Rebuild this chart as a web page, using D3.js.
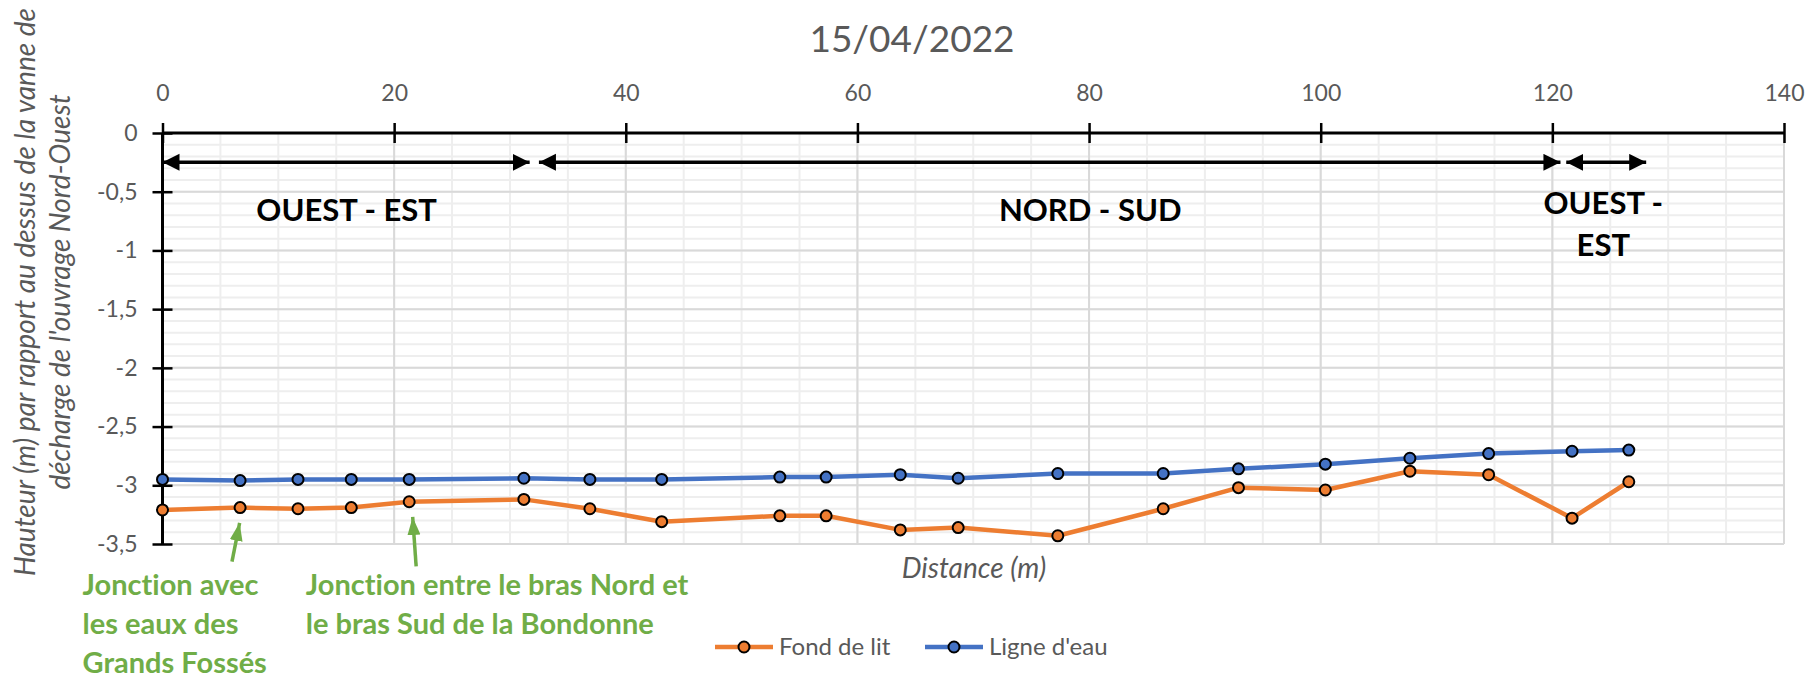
<!DOCTYPE html>
<html>
<head>
<meta charset="utf-8">
<script src="https://cdn.jsdelivr.net/npm/d3@7"></script>
<style>
  body { margin: 0; background: #fff; }
  svg { display: block; font-family: Lato, "Open Sans", sans-serif; font-variant-ligatures: none; }
</style>
</head>
<body>
<svg id="chart"></svg>
<script>
const W = 1807, H = 678

// distances (m) along the river
const distance = [0, 6.7, 11.7, 16.3, 21.3, 31.2, 36.9, 43.1, 53.3, 57.3, 63.7, 68.7, 77.3, 86.4, 92.9, 100.4, 107.7, 114.5, 121.7, 126.6]
// bed level
const fondDeLit = [-3.21, -3.19, -3.2, -3.19, -3.14, -3.12, -3.2, -3.31, -3.26, -3.26, -3.38, -3.36, -3.43, -3.2, -3.02, -3.04, -2.88, -2.91, -3.28, -2.97]
// water line
const ligneEau = [-2.95, -2.96, -2.95, -2.95, -2.95, -2.94, -2.95, -2.95, -2.93, -2.93, -2.91, -2.94, -2.9, -2.9, -2.86, -2.82, -2.77, -2.73, -2.71, -2.7]

const seriesNames = ['Fond de lit', "Ligne d'eau"]
const seriesColors = ['#ED7D31', '#4472C4']

const xTicks = [0, 20, 40, 60, 80, 100, 120, 140]
const yTicks = [0, -0.5, -1, -1.5, -2, -2.5, -3, -3.5]

// double arrows (from, to) in metres, drawn at -0.25
const sections = [[0, 31.7], [32.5, 120.7], [121.2, 128.1]]
const sectionLabels = [
  {lines: ['OUEST - EST'], x: 15.9, y: -0.655},
  {lines: ['NORD - SUD'], x: 80.1, y: -0.655},
  {lines: ['OUEST -', 'EST'], x: 124.4, y: -0.6}
]
const notes = [
  {lines: ['Jonction avec', 'les eaux des', 'Grands Fossés'], x: -6.9, y: -3.85, from: [6.0, -3.65], to: [6.66, -3.32]},
  {lines: ['Jonction entre le bras Nord et', 'le bras Sud de la Bondonne'], x: 12.37, y: -3.85, from: [21.9, -3.69], to: [21.6, -3.27]}
]

const fr = d3.formatLocale({decimal: ',', thousands: ' ', grouping: [3], currency: ['', ' €'], minus: '-'})
const fmt = fr.format('')

const svg = d3.select('#chart').attr('width', W).attr('height', H)

const x = d3.scaleLinear().domain([0, 140]).range([162.5, 1784])
const y = d3.scaleLinear().domain([0, -3.5]).range([133, 544])

// grid
const grid = svg.append('g')
grid.selectAll('.vmin').data(d3.range(0, 141, 5)).enter().append('line')
  .attr('x1', d => x(d)).attr('x2', d => x(d)).attr('y1', y(0)).attr('y2', y(-3.5))
  .attr('stroke', '#eeeeee').attr('stroke-width', 2)
grid.selectAll('.hmin').data(d3.range(0, 36).map(i => -i / 10)).enter().append('line')
  .attr('x1', x(0)).attr('x2', x(140)).attr('y1', d => y(d)).attr('y2', d => y(d))
  .attr('stroke', '#eeeeee').attr('stroke-width', 2)
grid.selectAll('.vmaj').data(xTicks).enter().append('line')
  .attr('x1', d => x(d)).attr('x2', d => x(d)).attr('y1', y(0)).attr('y2', y(-3.5))
  .attr('stroke', '#d9d9d9').attr('stroke-width', 2)
grid.selectAll('.hmaj').data(yTicks).enter().append('line')
  .attr('x1', x(0)).attr('x2', x(140)).attr('y1', d => y(d)).attr('y2', d => y(d))
  .attr('stroke', '#d9d9d9').attr('stroke-width', 2)

// axes
const xAxis = svg.append('g').attr('transform', `translate(0,${y(0)})`)
  .call(d3.axisTop(x).tickValues(xTicks).tickFormat(fmt).tickSize(10).tickPadding(22))
const yAxis = svg.append('g').attr('transform', `translate(${x(0)},0)`)
  .call(d3.axisLeft(y).tickValues(yTicks).tickFormat(fmt).tickSize(10).tickPadding(15))

;[xAxis, yAxis].forEach(a => {
  a.select('.domain').attr('stroke', '#000').attr('stroke-width', 3)
  a.selectAll('.tick line').attr('stroke', '#000').attr('stroke-width', 2.5)
  a.selectAll('.tick text').attr('fill', '#595959').style('font-size', '23px').style('font-family', 'Lato')
})
xAxis.select('.domain').attr('d', `M${x(0)},0H${x(140)}`)
yAxis.select('.domain').attr('d', `M0,${y(0)}V${y(-3.5)}`)
xAxis.selectAll('.tick line').attr('y1', 10).attr('y2', -10)
yAxis.selectAll('.tick line').attr('x1', 10).attr('x2', -10)

// title
svg.append('text').attr('x', 912).attr('y', 52).attr('text-anchor', 'middle')
  .attr('fill', '#595959').style('font-size', '37px').text('15/04/2022')

// y axis title
const yt = svg.append('text').attr('transform', 'translate(43,292) rotate(-90)')
  .attr('text-anchor', 'middle').attr('fill', '#595959')
  .style('font-size', '28px').style('font-style', 'italic')
yt.append('tspan').attr('x', 0).attr('dy', '-0.3em').text('Hauteur (m) par rapport au dessus de la vanne de')
yt.append('tspan').attr('x', 0).attr('dy', '1.25em').text("décharge de l'ouvrage Nord-Ouest")

// x axis title
svg.append('text').attr('x', 974).attr('y', 578).attr('text-anchor', 'middle')
  .attr('fill', '#595959').style('font-size', '28px').style('font-style', 'italic')
  .text('Distance (m)')

// arrow markers
const defs = svg.append('defs')
defs.append('marker').attr('id', 'blackHead').attr('markerUnits', 'userSpaceOnUse')
  .attr('markerWidth', 18).attr('markerHeight', 18).attr('refX', 17).attr('refY', 8.5)
  .attr('orient', 'auto-start-reverse')
  .append('path').attr('d', 'M0,0L17,8.5L0,17Z').attr('fill', '#000')
defs.append('marker').attr('id', 'greenHead').attr('markerUnits', 'userSpaceOnUse')
  .attr('markerWidth', 14).attr('markerHeight', 20).attr('refX', 18).attr('refY', 6.5)
  .attr('orient', 'auto')
  .append('path').attr('d', 'M0,0L18,6.5L0,13Z').attr('fill', '#70AD47')

svg.selectAll('.section').data(sections).enter().append('line')
  .attr('x1', d => x(d[0])).attr('x2', d => x(d[1]))
  .attr('y1', y(-0.25)).attr('y2', y(-0.25))
  .attr('stroke', '#000').attr('stroke-width', 3.5)
  .attr('marker-start', 'url(#blackHead)').attr('marker-end', 'url(#blackHead)')

sectionLabels.forEach(s => {
  const t = svg.append('text').attr('text-anchor', 'middle').attr('fill', '#000')
    .style('font-size', '31px').style('font-weight', 'bold')
  s.lines.forEach((l, i) => {
    t.append('tspan').attr('x', x(s.x)).attr('y', y(s.y) + 11 + i * 42).text(l)
  })
})

// series
const series = [fondDeLit, ligneEau]
const line = d3.line().x((d, i) => x(distance[i])).y(d => y(d))
series.forEach((vals, k) => {
  svg.append('path').datum(vals).attr('d', line)
    .attr('fill', 'none').attr('stroke', seriesColors[k]).attr('stroke-width', 4.5)
    .attr('stroke-linejoin', 'round')
  svg.selectAll('.m' + k).data(vals).enter().append('circle')
    .attr('cx', (d, i) => x(distance[i])).attr('cy', d => y(d)).attr('r', 5.5)
    .attr('fill', seriesColors[k]).attr('stroke', '#000').attr('stroke-width', 2)
})

// green notes
notes.forEach(n => {
  svg.append('line')
    .attr('x1', x(n.from[0])).attr('y1', y(n.from[1]))
    .attr('x2', x(n.to[0])).attr('y2', y(n.to[1]))
    .attr('stroke', '#70AD47').attr('stroke-width', 3.5)
    .attr('marker-end', 'url(#greenHead)')
  const t = svg.append('text').attr('fill', '#70AD47')
    .style('font-size', '29px').style('font-weight', 'bold')
  n.lines.forEach((l, i) => {
    t.append('tspan').attr('x', x(n.x)).attr('y', y(n.y) + 10 + i * 39).text(l)
  })
})

// legend
const legend = svg.append('g')
const legX = [715, 925]
seriesNames.forEach((name, k) => {
  const g = legend.append('g').attr('transform', `translate(${legX[k]},647)`)
  g.append('line').attr('x1', 0).attr('x2', 58).attr('stroke', seriesColors[k]).attr('stroke-width', 4.5)
  g.append('circle').attr('cx', 29).attr('r', 5.5).attr('fill', seriesColors[k])
    .attr('stroke', '#000').attr('stroke-width', 2)
  g.append('text').attr('x', 64).attr('dy', '0.35em').attr('fill', '#595959')
    .style('font-size', '24px').text(name)
})
</script>
</body>
</html>
